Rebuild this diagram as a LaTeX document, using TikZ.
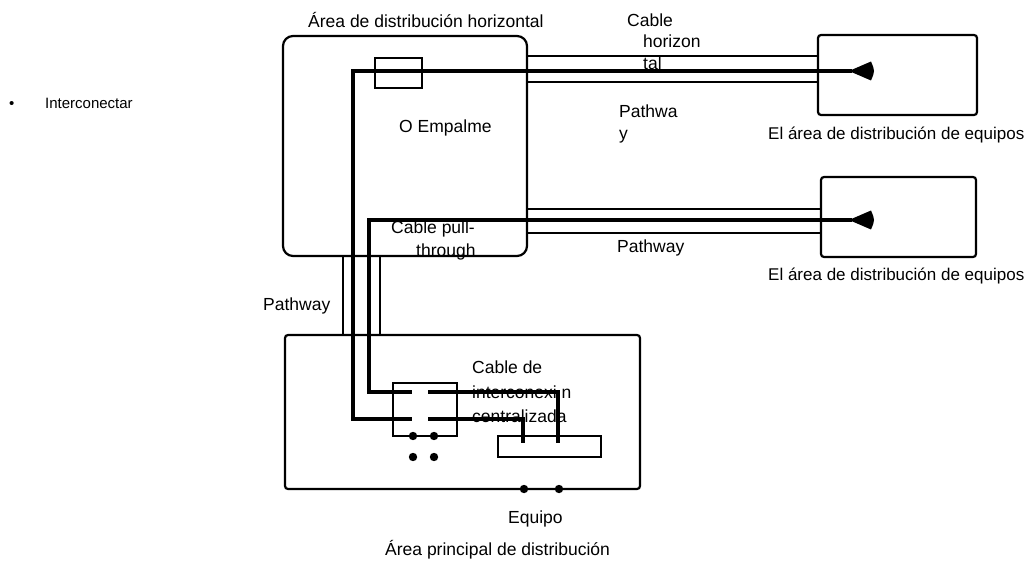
\documentclass[tikz,border=0pt]{standalone}
\usepackage{fontspec}
\setmainfont{Liberation Sans}
\begin{document}
\begin{tikzpicture}[x=1pt,y=-1pt,
  boxline/.style={line width=2.2pt},
  pathline/.style={line width=2.2pt},
  cableline/.style={line width=4.5pt},
  lbl/.style={anchor=base west,inner sep=0pt,font=\fontsize{17.5}{20}\selectfont},
  edalbl/.style={lbl,font=\fontsize{17}{20}\selectfont},
  dotmark/.style={fill=black,draw=none}
]
\useasboundingbox (0,0) rectangle (1027,561);
% named corners
\coordinate (hdaNW) at (283,36); \coordinate (hdaSE) at (527,256);
\coordinate (eda1NW) at (818,35); \coordinate (eda1SE) at (977,115);
\coordinate (eda2NW) at (821,177); \coordinate (eda2SE) at (976,257);
\coordinate (mdaNW) at (285,335); \coordinate (mdaSE) at (640,489);
\coordinate (spNW) at (375,58); \coordinate (spSE) at (422,88);
\coordinate (xcNW) at (393,383); \coordinate (xcSE) at (457,436);
\coordinate (eqNW) at (498,436); \coordinate (eqSE) at (601,457);

% pathways
\draw[pathline] (527,56) -- (818,56);
\draw[pathline] (527,82) -- (818,82);
\draw[pathline] (527,209) -- (821,209);
\draw[pathline] (527,233) -- (821,233);
\draw[pathline] (343,256) -- (343,335);
\draw[pathline] (380,256) -- (380,335);

% boxes
\draw[boxline,rounded corners=10pt] (hdaNW) rectangle (hdaSE);
\draw[boxline,rounded corners=3pt] (eda1NW) rectangle (eda1SE);
\draw[boxline,rounded corners=3pt] (eda2NW) rectangle (eda2SE);
\draw[boxline,rounded corners=3pt] (mdaNW) rectangle (mdaSE);
\draw[boxline] (xcNW) rectangle (xcSE);
\draw[boxline] (eqNW) rectangle (eqSE);

% cables
\coordinate (c1end) at (852,71);
\coordinate (c2end) at (852,220);
\draw[cableline] (c1end) -- (353,71) -- (353,419) -- (412,419);
\draw[cableline] (428,419) -- (523,419) -- (523,443);
\draw[cableline] (c2end) -- (369,220) -- (369,392) -- (412,392);
\draw[cableline] (428,392) -- (558,392) -- (558,443);
\draw[boxline,fill=white] (spNW) rectangle (spSE);
\draw[cableline] (spNW |- 0,71) -- (spSE |- 0,71);

% connector heads
\foreach \c in {c1end,c2end}{
  \fill ([xshift=-3pt]\c) .. controls ([xshift=8pt,yshift=-4pt]\c) .. ([xshift=19pt,yshift=-9.5pt]\c)
     .. controls ([xshift=23pt]\c) .. ([xshift=19pt,yshift=9.5pt]\c)
     .. controls ([xshift=8pt,yshift=4pt]\c) .. ([xshift=-3pt]\c) -- cycle;
}

% dots
\foreach \p in {(413,436),(434,436),(413,457),(434,457),(524,489),(559,489)}
  \fill[dotmark] \p circle (4.2pt);

% labels
\node[lbl] (tHDA) at (308,28) {Área de distribución horizontal};
\node[lbl] (tCab1) at (627,27) {Cable};
\node[lbl] (tCab2) at (643,48) {horizon};
\node[lbl] (tCab3) at (643,70) {tal};
\node[lbl] (tPw1a) at (619,118) {Pathwa};
\node[lbl] (tPw1b) at (619,140) {y};
\node[lbl] (tEmp) at (399,133) {O Empalme};
\node[lbl] (tPull1) at (391,234) {Cable pull-};
\node[lbl] (tPull2) at (416,257) {through};
\node[lbl] (tPw2) at (617,253) {Pathway};
\node[edalbl] (tEda1) at (768,140) {El área de distribución de equipos};
\node[edalbl] (tEda2) at (768,280) {El área de distribución de equipos};
\node[lbl] (tPw3) at (263,310) {Pathway};
\node[lbl] (tCc1) at (472,373) {Cable de};
\node[lbl] (tCc2) at (472,398) {interconexi n};
\node[lbl] (tCc3) at (472,422) {centralizada};
\node[lbl] (tEq) at (508,523) {Equipo};
\node[lbl] (tMda) at (385,555) {Área principal de distribución};
\node[lbl,font=\fontsize{15}{18}\selectfont] (tBul) at (9,109) {•};
\node[lbl,font=\fontsize{15}{18}\selectfont] (tInt) at (45,109) {Interconectar};
\end{tikzpicture}
\end{document}
